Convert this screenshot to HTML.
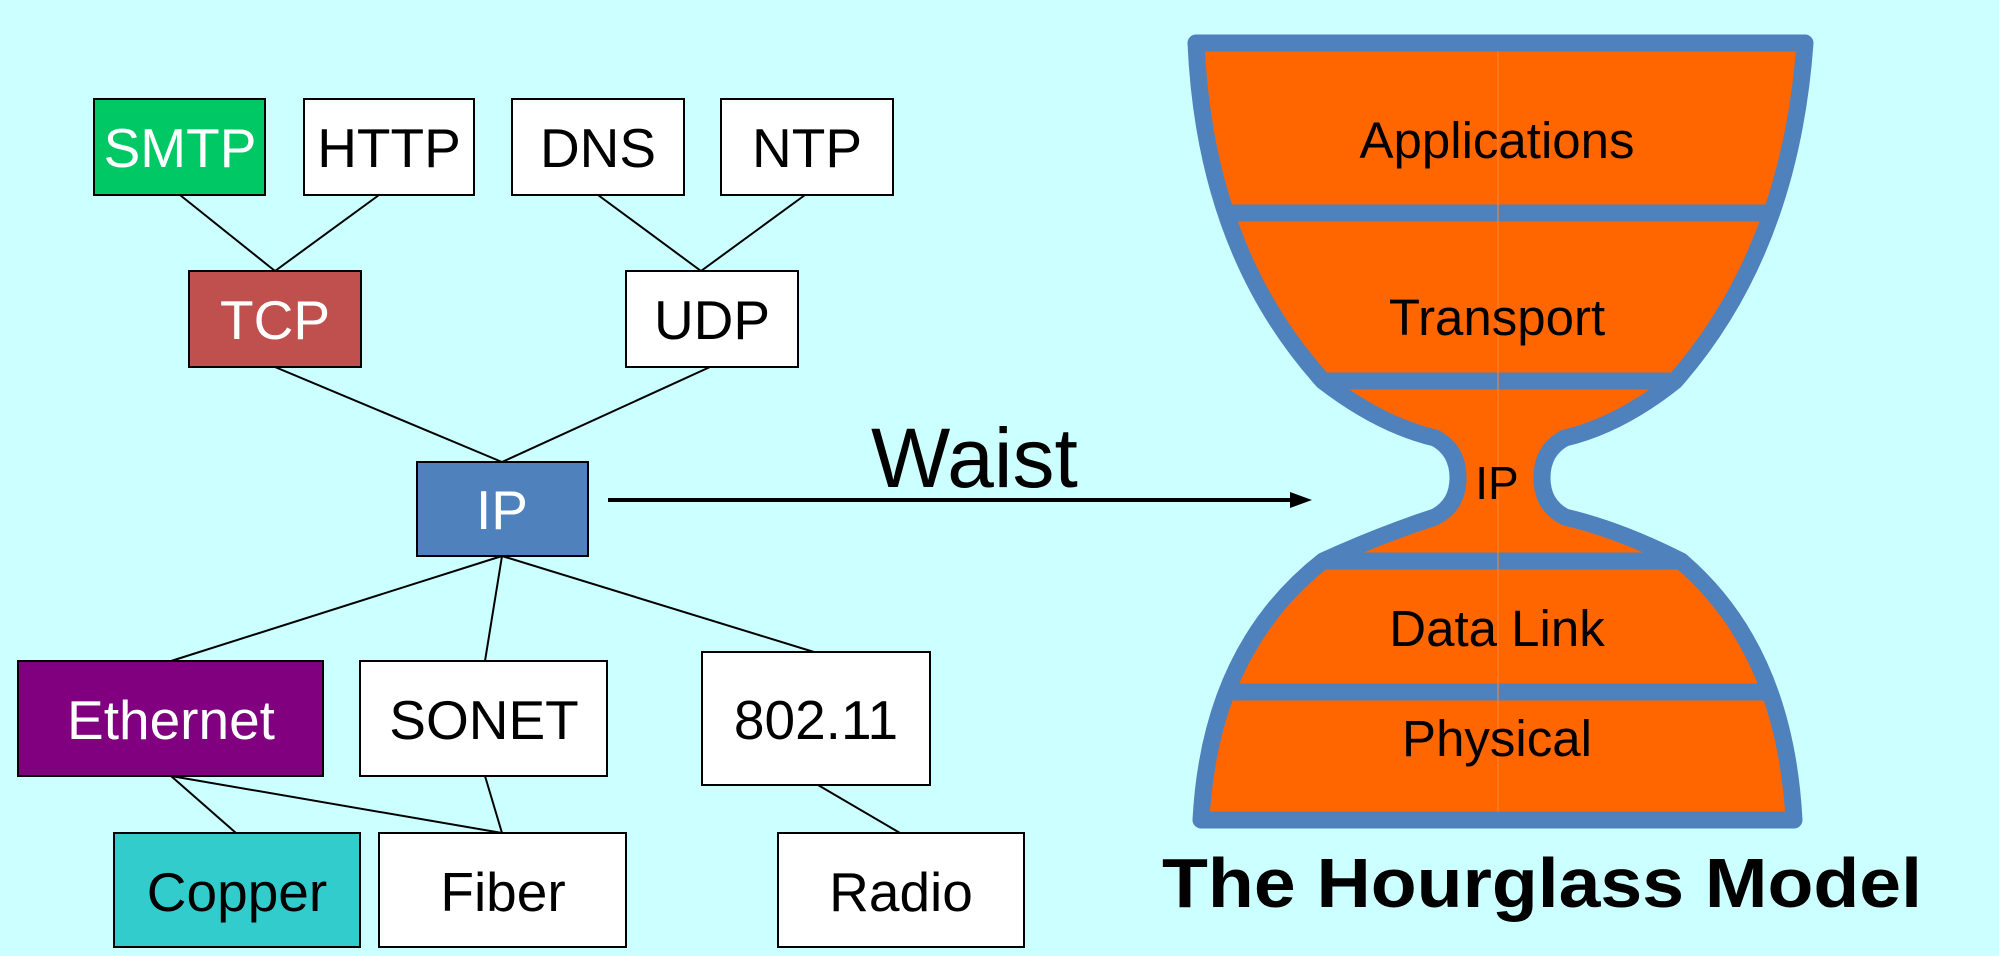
<!DOCTYPE html>
<html><head><meta charset="utf-8"><style>
html,body{margin:0;padding:0;background:#ccffff;}
svg{display:block;}
text{font-family:"Liberation Sans",sans-serif;}
</style></head><body>
<svg width="1999" height="956" viewBox="0 0 1999 956" xmlns="http://www.w3.org/2000/svg">
<rect width="1999" height="956" fill="#ccffff"/>
<g stroke="#000" stroke-width="2" fill="none">
<line x1="180" y1="195" x2="275" y2="271"/>
<line x1="379" y1="195" x2="275" y2="271"/>
<line x1="598" y1="195" x2="701" y2="271"/>
<line x1="805" y1="195" x2="701" y2="271"/>
<line x1="275" y1="367" x2="502" y2="462"/>
<line x1="710" y1="367" x2="502" y2="462"/>
<line x1="502" y1="556" x2="171" y2="661"/>
<line x1="502" y1="556" x2="485" y2="661"/>
<line x1="502" y1="556" x2="814" y2="652"/>
<line x1="171" y1="776" x2="236" y2="833"/>
<line x1="171" y1="776" x2="502" y2="833"/>
<line x1="485" y1="776" x2="502" y2="833"/>
<line x1="818" y1="785" x2="900" y2="833"/>
</g>
<g stroke="#000" stroke-width="2">
<rect x="94" y="99" width="171" height="96" fill="#00c864"/>
<rect x="304" y="99" width="170" height="96" fill="#fff"/>
<rect x="512" y="99" width="172" height="96" fill="#fff"/>
<rect x="721" y="99" width="172" height="96" fill="#fff"/>
<rect x="189" y="271" width="172" height="96" fill="#c0504d"/>
<rect x="626" y="271" width="172" height="96" fill="#fff"/>
<rect x="417" y="462" width="171" height="94" fill="#4f81bd"/>
<rect x="18" y="661" width="305" height="115" fill="#800080"/>
<rect x="360" y="661" width="247" height="115" fill="#fff"/>
<rect x="702" y="652" width="228" height="133" fill="#fff"/>
<rect x="114" y="833" width="246" height="114" fill="#33cccc"/>
<rect x="379" y="833" width="247" height="114" fill="#fff"/>
<rect x="778" y="833" width="246" height="114" fill="#fff"/>
</g>
<g font-size="55" text-anchor="middle">
<text x="180" y="167" fill="#fff">SMTP</text>
<text x="389" y="167">HTTP</text>
<text x="598" y="167">DNS</text>
<text x="807" y="167">NTP</text>
<text x="275" y="339" fill="#fff">TCP</text>
<text x="712" y="339">UDP</text>
<text x="502" y="529" fill="#fff">IP</text>
<text x="171" y="739" fill="#fff">Ethernet</text>
<text x="484" y="739">SONET</text>
<text x="816" y="739">802.11</text>
<text x="237" y="911">Copper</text>
<text x="503" y="911">Fiber</text>
<text x="901" y="911">Radio</text>
</g>
<text x="871" y="487" font-size="84">Waist</text>
<line x1="608" y1="500" x2="1295" y2="500" stroke="#000" stroke-width="4"/>
<polygon points="1312,500 1290,492 1290,508" fill="#000"/>
<defs><clipPath id="hg"><path d="M1196,43 Q1205,250 1323,381 Q1380,425 1435,438 Q1458,450 1458,478 Q1458,505 1435,517 Q1380,535 1323,561 Q1210,650 1201,820 L1794,820 Q1785,650 1681,561 Q1620,530 1565,517 Q1542,505 1542,478 Q1542,450 1565,438 Q1620,425 1675,381 Q1790,250 1805,43 Z"/></clipPath></defs>
<path d="M1196,43 Q1205,250 1323,381 Q1380,425 1435,438 Q1458,450 1458,478 Q1458,505 1435,517 Q1380,535 1323,561 Q1210,650 1201,820 L1794,820 Q1785,650 1681,561 Q1620,530 1565,517 Q1542,505 1542,478 Q1542,450 1565,438 Q1620,425 1675,381 Q1790,250 1805,43 Z" fill="#ff6600"/>
<g clip-path="url(#hg)" stroke="#4f81bd" stroke-width="17">
<line x1="1150" y1="213" x2="1850" y2="213"/>
<line x1="1150" y1="381" x2="1850" y2="381"/>
<line x1="1150" y1="561" x2="1850" y2="561"/>
<line x1="1150" y1="692" x2="1850" y2="692"/>
<line x1="1498" y1="50" x2="1498" y2="820" stroke="#ff8833" stroke-width="1"/>
</g>
<path d="M1196,43 Q1205,250 1323,381 Q1380,425 1435,438 Q1458,450 1458,478 Q1458,505 1435,517 Q1380,535 1323,561 Q1210,650 1201,820 L1794,820 Q1785,650 1681,561 Q1620,530 1565,517 Q1542,505 1542,478 Q1542,450 1565,438 Q1620,425 1675,381 Q1790,250 1805,43 Z" fill="none" stroke="#4f81bd" stroke-width="17" stroke-linejoin="round" stroke-linecap="round"/>
<g font-size="51" text-anchor="middle">
<text x="1497" y="158">Applications</text>
<text x="1497" y="335">Transport</text>
<text x="1497" y="499" font-size="46">IP</text>
<text x="1497" y="646">Data Link</text>
<text x="1497" y="756">Physical</text>
</g>
<text x="1162" y="907" font-size="70" font-weight="bold" textLength="760" lengthAdjust="spacingAndGlyphs">The Hourglass Model</text>
</svg>
</body></html>
